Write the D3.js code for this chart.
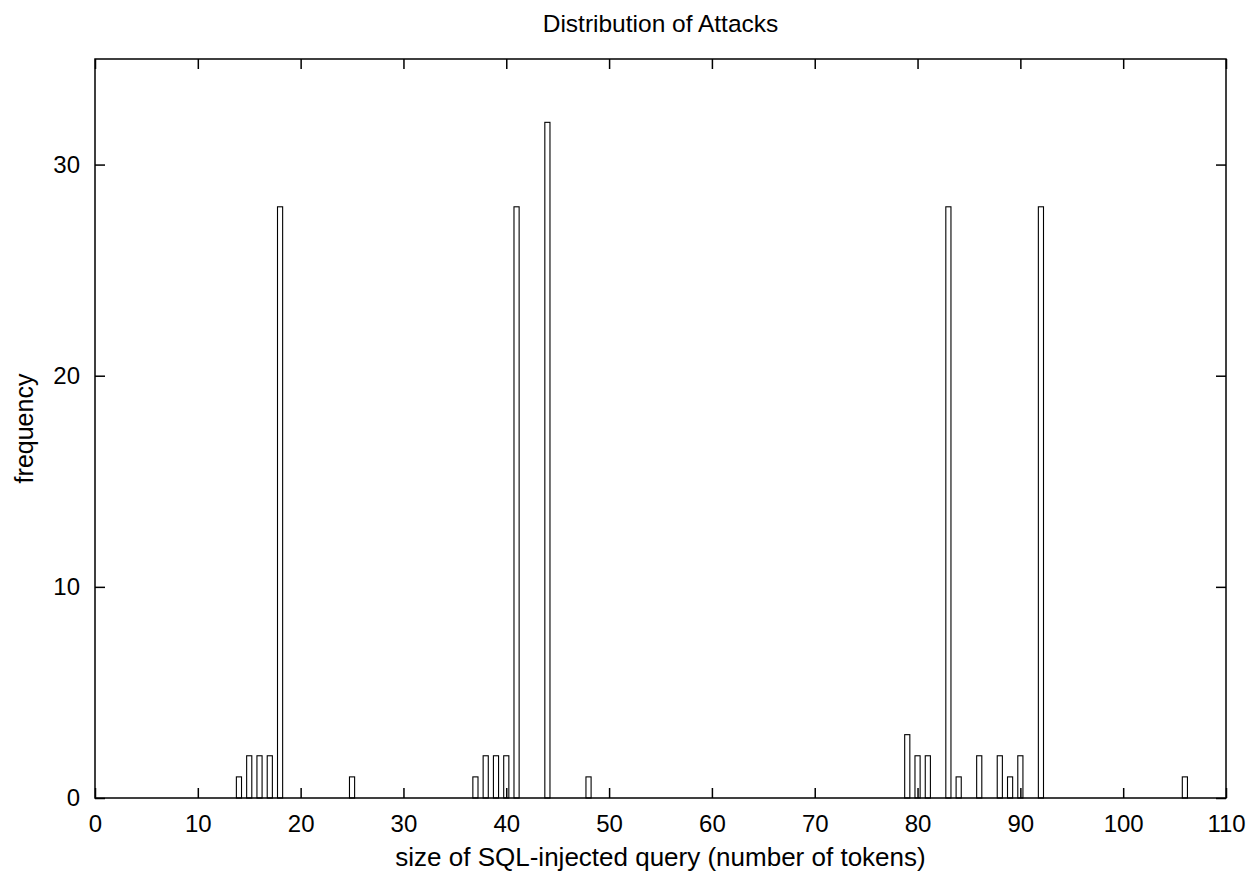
<!DOCTYPE html>
<html>
<head>
<meta charset="utf-8">
<script src="https://cdn.jsdelivr.net/npm/d3@7"></script>
<style>
  body { margin: 0; background: #fff; }
  text { font-family: "Liberation Sans", Arial, sans-serif; fill: #000; }
</style>
</head>
<body>
<div id="canvas"></div>
<script>
// query size (tokens) and how many attacks had that size
const sizes  = [14, 15, 16, 17, 18, 25, 37, 38, 39, 40, 41, 44, 48, 79, 80, 81, 83, 84, 86, 88, 89, 90, 92, 106];
const counts = [1, 2, 2, 2, 28, 1, 1, 2, 2, 2, 28, 32, 1, 3, 2, 2, 28, 1, 2, 2, 1, 2, 28, 1];
const xTicks = [0, 10, 20, 30, 40, 50, 60, 70, 80, 90, 100, 110];
const yTicks = [0, 10, 20, 30];

const width = 1247;
const height = 873;
const margin = {top: 59, left: 95, bottom: 75, right: 21};
const iwidth = width - margin.left - margin.right;
const iheight = height - margin.top - margin.bottom;

const svg = d3.select("#canvas").append("svg")
  .attr("width", width)
  .attr("height", height);

const g = svg.append("g").attr("transform", `translate(${margin.left},${margin.top})`);

const x = d3.scaleLinear().domain([0, 110]).range([0, iwidth]);
const y = d3.scaleLinear().domain([0, 35]).range([iheight, 0]);

const data = sizes.map((s, i) => ({size: s, count: counts[i]}));
const boxW = 0.5;

g.selectAll("rect.bar").data(data).enter().append("rect")
  .attr("class", "bar")
  .attr("x", d => x(d.size - boxW / 2))
  .attr("y", d => y(d.count))
  .attr("width", x(boxW) - x(0))
  .attr("height", d => iheight - y(d.count))
  .attr("fill", "#fff")
  .attr("stroke", "#000")
  .attr("stroke-width", 1.1);

function styleAxis(sel) {
  sel.attr("font-size", 24).attr("font-family", "'Liberation Sans', Arial, sans-serif");
  sel.select(".domain").remove();
  sel.selectAll(".tick line").attr("stroke", "#000").attr("stroke-width", 1.5);
  sel.selectAll("text").attr("fill", "#000");
}

g.append("g")
  .attr("transform", `translate(0,${iheight})`)
  .call(d3.axisBottom(x).tickValues(xTicks).tickSizeInner(-10).tickSizeOuter(0).tickPadding(17))
  .call(styleAxis);

g.append("g")
  .call(d3.axisLeft(y).tickValues(yTicks).tickSizeInner(-10).tickSizeOuter(0).tickPadding(15))
  .call(styleAxis);

// mirrored ticks on top and right
g.append("g")
  .call(d3.axisTop(x).tickValues(xTicks).tickSizeInner(-10).tickSizeOuter(0).tickFormat(""))
  .call(styleAxis);

g.append("g")
  .attr("transform", `translate(${iwidth},0)`)
  .call(d3.axisRight(y).tickValues(yTicks).tickSizeInner(-10).tickSizeOuter(0).tickFormat(""))
  .call(styleAxis);

g.append("rect")
  .attr("width", iwidth)
  .attr("height", iheight)
  .attr("fill", "none")
  .attr("stroke", "#000")
  .attr("stroke-width", 1.5);

svg.append("text")
  .attr("x", margin.left + iwidth / 2)
  .attr("y", 32)
  .attr("text-anchor", "middle")
  .attr("font-size", 24.5)
  .text("Distribution of Attacks");

svg.append("text")
  .attr("x", margin.left + iwidth / 2)
  .attr("y", 866)
  .attr("text-anchor", "middle")
  .attr("font-size", 26)
  .text("size of SQL-injected query (number of tokens)");

svg.append("text")
  .attr("transform", `translate(33,${margin.top + iheight / 2}) rotate(-90)`)
  .attr("text-anchor", "middle")
  .attr("font-size", 25)
  .text("frequency");
</script>
</body>
</html>
